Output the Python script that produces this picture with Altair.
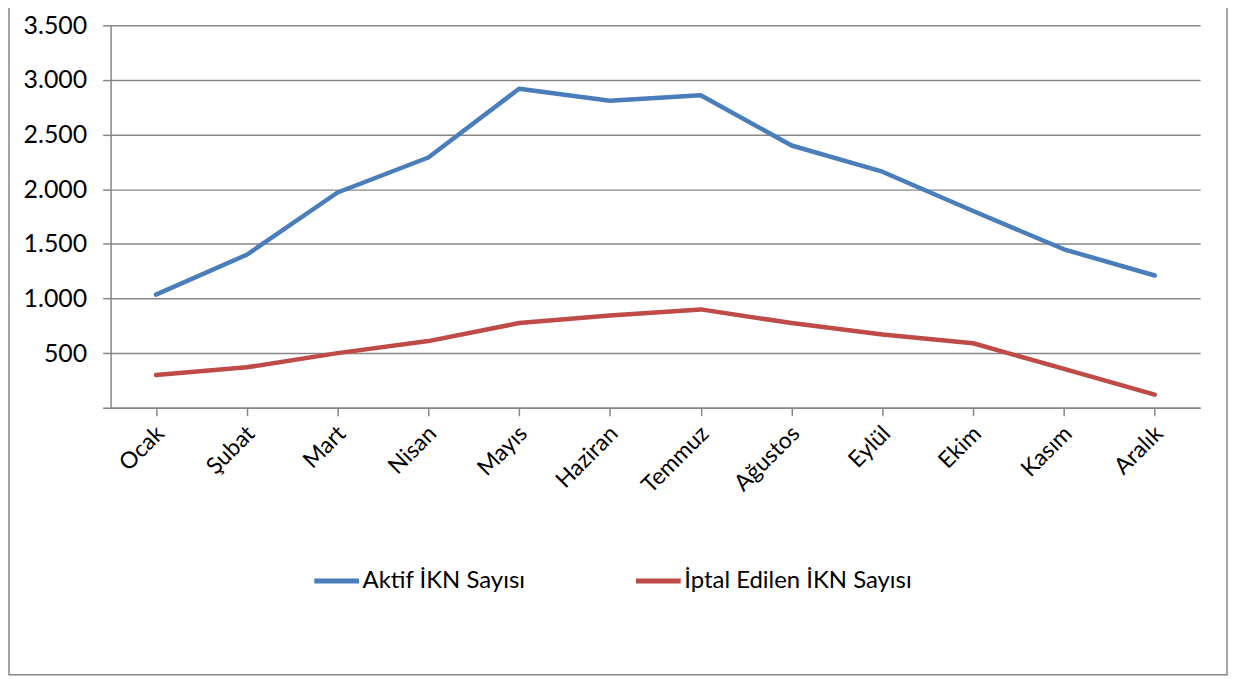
import altair as alt
import pandas as pd

months = ["Ocak", "Şubat", "Mart", "Nisan", "Mayıs", "Haziran",
          "Temmuz", "Ağustos", "Eylül", "Ekim", "Kasım", "Aralık"]
aktif = [1035, 1400, 1970, 2290, 2920, 2810, 2860, 2400, 2160, 1800, 1450, 1210]
iptal = [300, 370, 500, 610, 775, 845, 900, 775, 670, 590, 355, 120]
series = ["Aktif İKN Sayısı", "İptal Edilen İKN Sayısı"]
colors = ["#4A7EBB", "#BE4B48"]

rows = []
for m, a, p in zip(months, aktif, iptal):
    rows.append({"Ay": m, "Seri": series[0], "Deger": a})
    rows.append({"Ay": m, "Seri": series[1], "Deger": p})
df = pd.DataFrame(rows)

FONT = "Lato"
GRAY = "#868686"

lines = alt.Chart(df).mark_line(strokeWidth=4.5, strokeCap="round", strokeJoin="round").encode(
    x=alt.X("Ay:N", sort=months, title=None,
            scale=alt.Scale(paddingInner=0, paddingOuter=0),
            axis=alt.Axis(labelAngle=-45, labelAlign="right", labelBaseline="middle",
                          labelPadding=14, labelFontSize=23, labelFont=FONT, labelColor="#000000",
                          tickSize=8, bandPosition=0, domainColor=GRAY, tickColor=GRAY,
                          domainWidth=1.5, tickWidth=1.5, grid=False, labelOffset=4)),
    y=alt.Y("Deger:Q", title=None,
            scale=alt.Scale(domain=[0, 3500], nice=False),
            axis=alt.Axis(values=[0, 500, 1000, 1500, 2000, 2500, 3000, 3500],
                          labelExpr="datum.value == 0 ? '' : replace(format(datum.value, ','), ',', '.')",
                          labelFontSize=25, labelFont=FONT, labelColor="#000000", labelPadding=16,
                          tickSize=8, domainColor=GRAY, tickColor=GRAY, gridColor=GRAY,
                          domainWidth=1.5, tickWidth=1.5, gridWidth=1.5, grid=True)),
    color=alt.Color("Seri:N", sort=series,
                    scale=alt.Scale(domain=series, range=colors),
                    legend=alt.Legend(title=None, orient="none", legendX=202, legendY=533,
                                      direction="horizontal", symbolType="stroke",
                                      symbolSize=2025, symbolStrokeWidth=5,
                                      labelFont=FONT, labelFontSize=24, labelColor="#000000",
                                      labelLimit=0, labelOffset=1, columnPadding=100,
                                      symbolOffset=0)),
)

border = alt.Chart(alt.Data(values=[{"k": 1}])).mark_rect(
    fill="transparent", stroke=GRAY, strokeWidth=1.5
).encode(
    x=alt.value(-102), x2=alt.value(1121), y=alt.value(-40), y2=alt.value(652)
)

chart = alt.layer(lines, border).properties(
    width=1094, height=384,
    padding={"left": 103, "top": 16, "right": 28, "bottom": 270},
    autosize=alt.AutoSizeParams(type="none"),
).configure_view(stroke=None)

chart.save("out.html", embed_options={"renderer": "svg", "actions": False})
